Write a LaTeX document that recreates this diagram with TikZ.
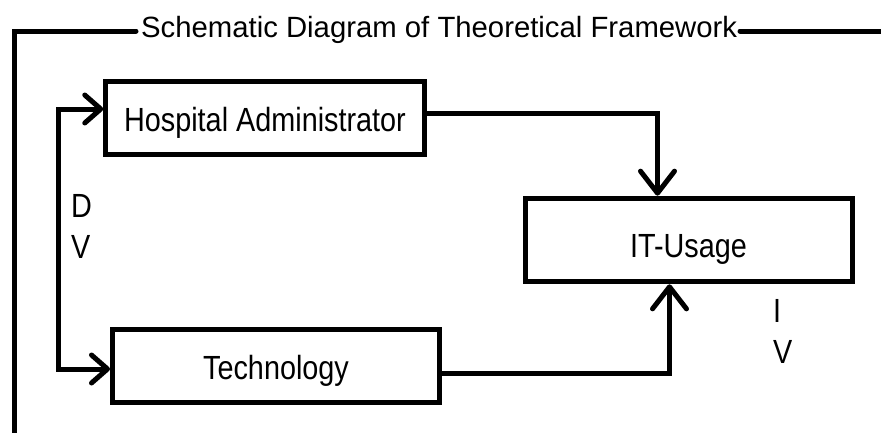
\documentclass[tikz,border=0pt]{standalone}
\usepackage{fontspec}
\setmainfont{Liberation Sans}
\newfontfamily\boxfont{Liberation Sans}[FakeStretch=0.86]
\usepackage{tikz}
\usetikzlibrary{arrows.meta}

\tikzset{
    block/.style={draw, line width=5pt, minimum height=73pt, inner sep=0pt,
        font=\boxfont\fontsize{33.5}{41}\selectfont, text height=26pt, text depth=0pt},
    tag/.style={inner sep=0pt, align=left, font=\boxfont\fontsize{33.5}{41}\selectfont},
    frame/.style={line width=5pt, line cap=round},
    flow/.style={line width=5pt, -{Straight Barb[length=22pt, width=34pt, round]}},
    loop/.style={line width=5pt, {Straight Barb[length=16pt, width=28pt, round]}-{Straight Barb[length=16pt, width=28pt, round]}}
}

\begin{document}
\begin{tikzpicture}[x=1pt, y=-1pt]
        \useasboundingbox (0,0) rectangle (881,432);

        \node[anchor=base west, inner sep=0pt, font=\fontsize{29.3}{35}\selectfont] (title) at (141,37.3) {Schematic Diagram of Theoretical Framework};
        \draw[frame] (136,31) -- (14,31) -- (14,445);
        \draw[frame] (740,31) -- (890,31);

        \node[block, minimum width=318.5pt] (hosp) at (265,118) {Hospital Administrator};
        \node[block, minimum width=327pt] (tech) at (276,366.3) {Technology};
        \node[block, minimum width=327pt, minimum height=83.7pt, text height=34pt] (itusage) at (688.5,240) {IT-Usage};

        \node[tag, anchor=north west] (dv) at (71,194) {D\\V};
        \node[tag, anchor=north west] (iv) at (773,299) {I\\V};

        \coordinate (hospin) at ([yshift=9pt]hosp.west);
        \coordinate (techin) at ([yshift=-2.7pt]tech.west);
        \coordinate (rail) at (58,240);

        \draw[loop] (hospin) -- (hospin -| rail) -- (techin -| rail) -- (techin);
        \draw[flow] ([yshift=4.5pt]hosp.east) -| ([xshift=-31pt]itusage.north);
        \draw[flow] ([yshift=-6.7pt]tech.east) -| ([xshift=-19pt]itusage.south);
    \end{tikzpicture}
\end{document}
